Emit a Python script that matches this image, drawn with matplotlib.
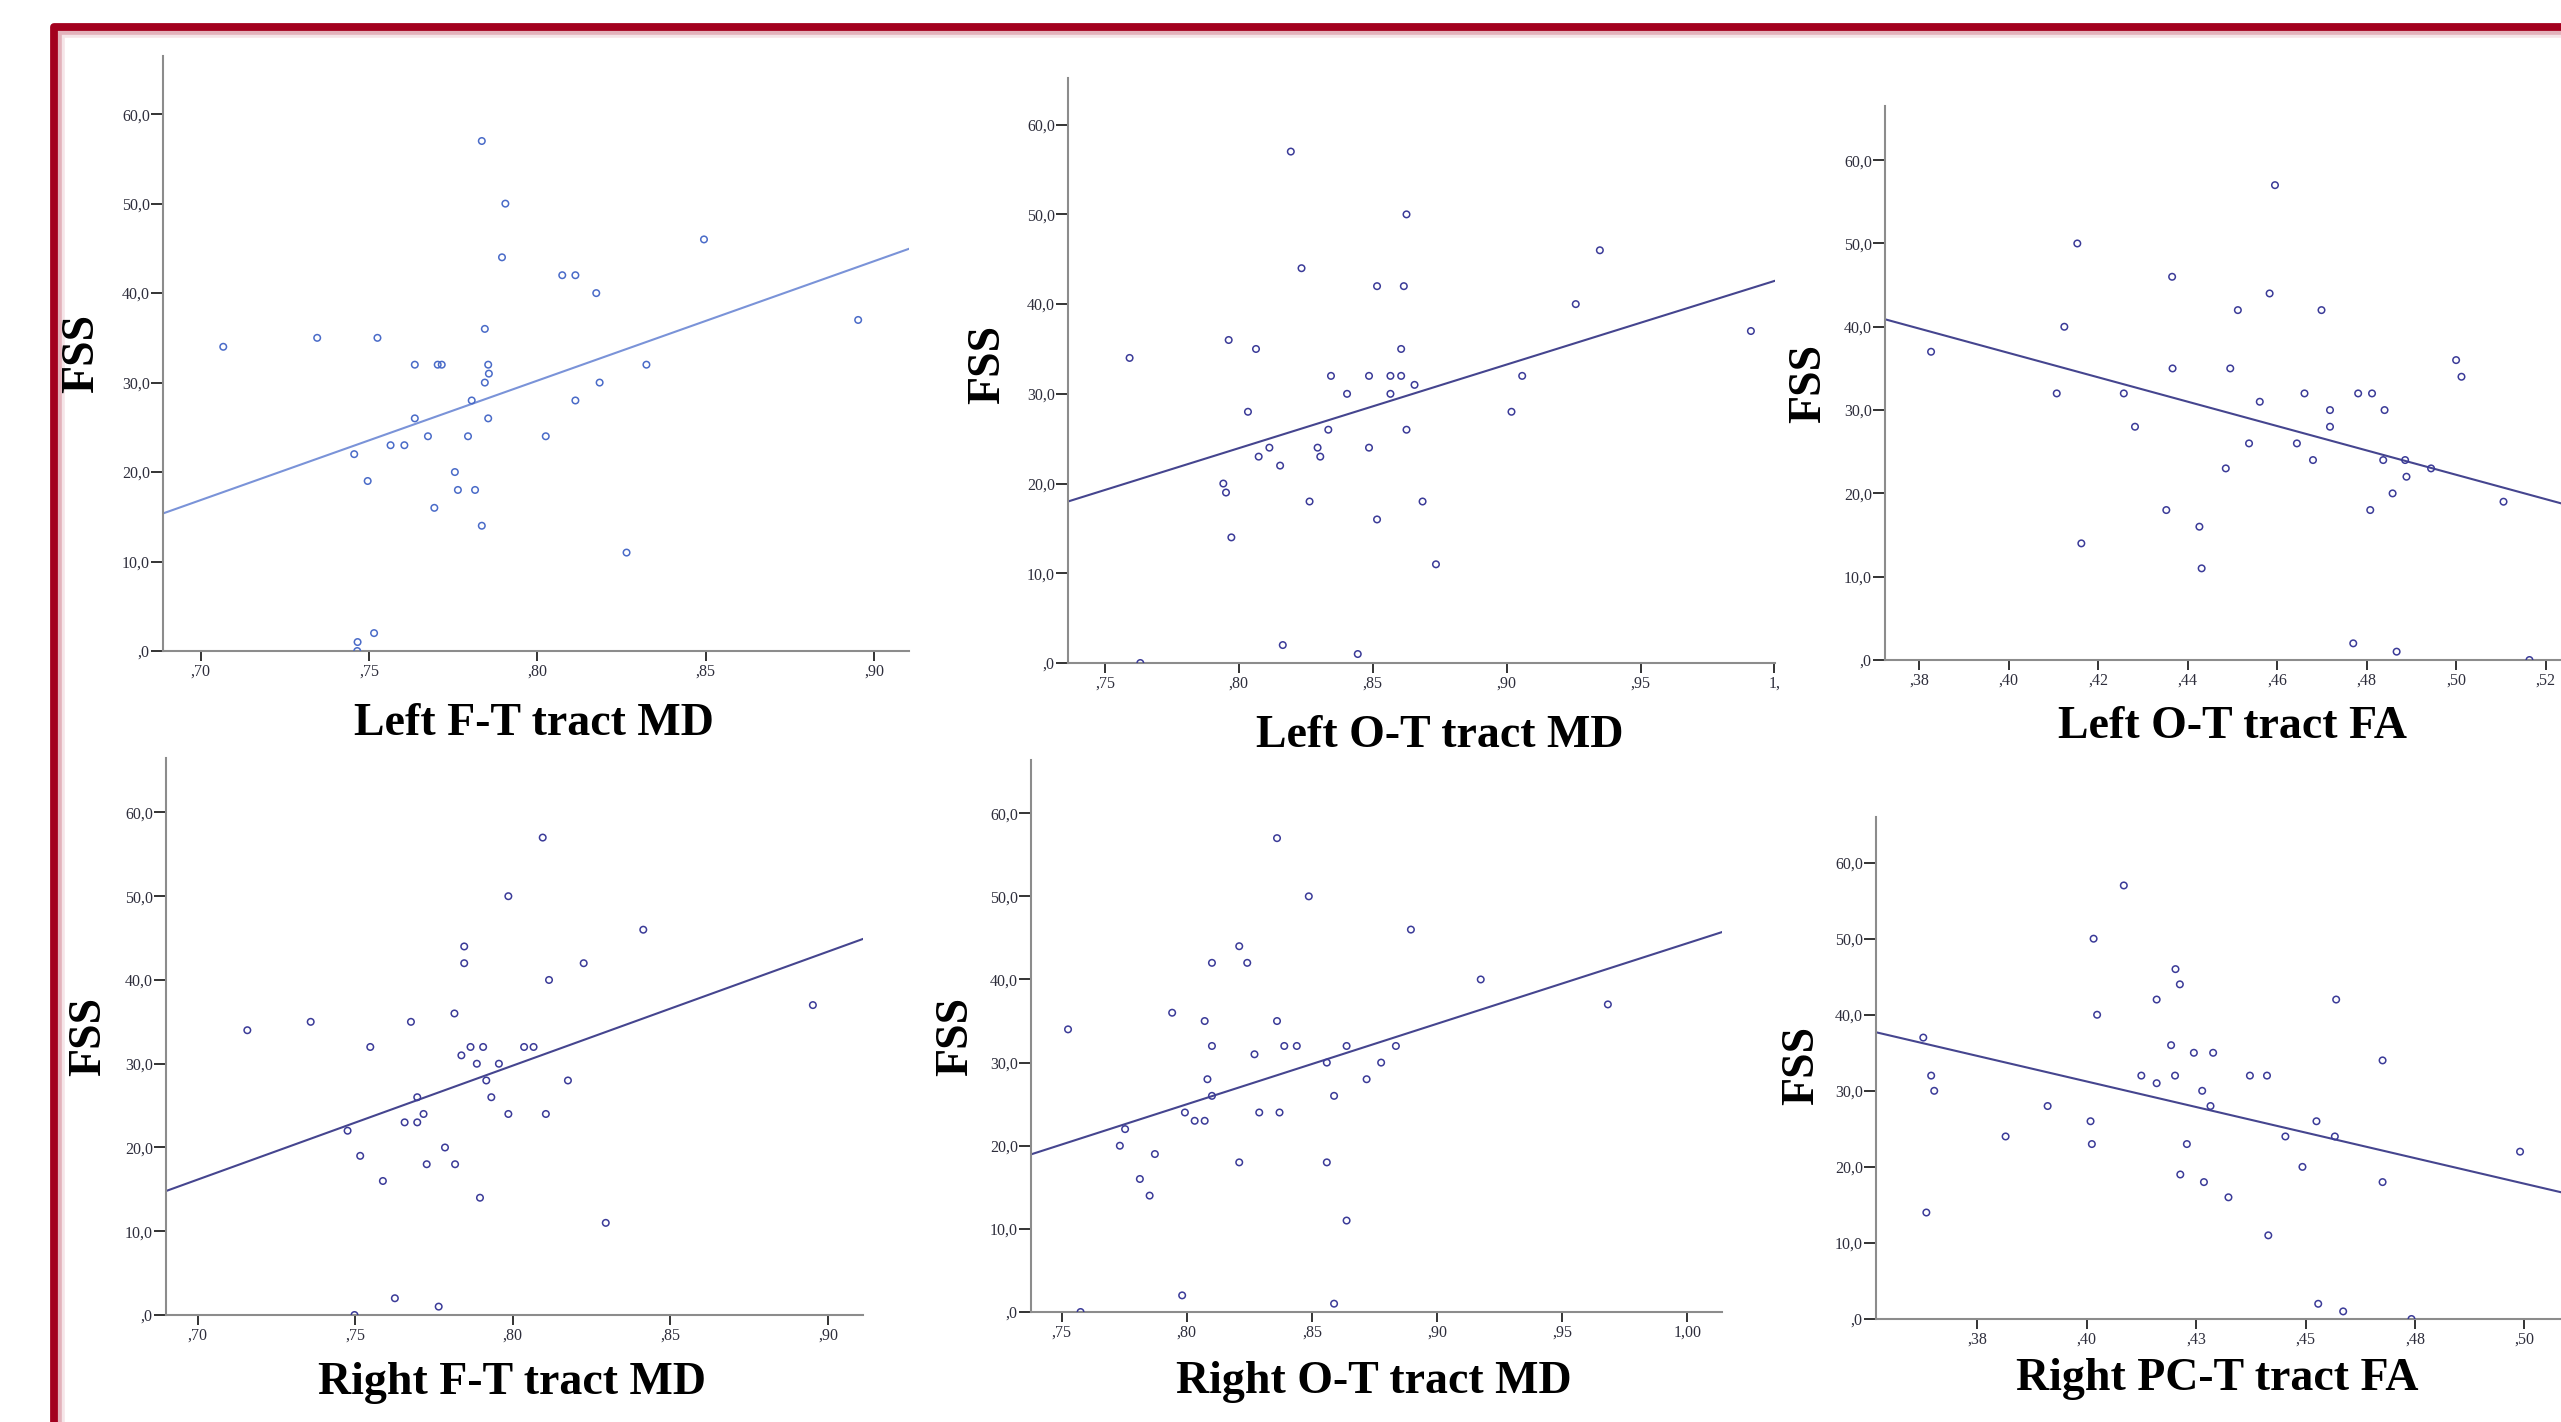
import numpy as np
import matplotlib.pyplot as plt
from matplotlib.lines import Line2D

plt.rcParams["font.family"] = ["Liberation Serif", "DejaVu Serif"]

W, H = 2561, 1422

# FSS score read for each subject, per panel (x = tract measure)
lft_md_x = [0.7067, 0.7346, 0.7525, 0.7456, 0.7496, 0.7466, 0.7465, 0.7515, 0.7564, 0.7605,
            0.7636, 0.7636, 0.7675, 0.7694, 0.7704, 0.7716, 0.7755, 0.7764, 0.7794, 0.7805,
            0.7815, 0.7835, 0.7835, 0.7844, 0.7844, 0.7854, 0.7856, 0.7854, 0.7895, 0.7905,
            0.8025, 0.8074, 0.8113, 0.8113, 0.8175, 0.8185, 0.8265, 0.8324, 0.8495, 0.8953]
lft_md_fss = [34, 35, 35, 22, 19, 1, 0, 2, 23, 23, 32, 26, 24, 16, 32, 32, 20, 18, 24, 28,
              18, 57, 14, 36, 30, 32, 31, 26, 44, 50, 24, 42, 42, 28, 40, 30, 11, 32, 46, 37]

lot_md_x = [0.7592, 0.7632, 0.7942, 0.7952, 0.7962, 0.7972, 0.8034, 0.8064, 0.8074, 0.8114,
            0.8154, 0.8164, 0.8194, 0.8234, 0.8264, 0.8294, 0.8304, 0.8334, 0.8344, 0.8404,
            0.8444, 0.8486, 0.8486, 0.8516, 0.8516, 0.8566, 0.8566, 0.8606, 0.8606, 0.8616,
            0.8626, 0.8626, 0.8656, 0.8686, 0.8736, 0.9018, 0.9058, 0.9258, 0.9348, 0.9912]
lot_md_fss = [34, 0, 20, 19, 36, 14, 28, 35, 23, 24, 22, 2, 57, 44, 18, 24, 23, 26, 32, 30,
              1, 32, 24, 42, 16, 32, 30, 35, 32, 42, 50, 26, 31, 18, 11, 28, 32, 40, 46, 37]

lot_fa_x = [0.3826, 0.4107, 0.4124, 0.4153, 0.4162, 0.4257, 0.4282, 0.4352, 0.4365, 0.4366,
            0.4426, 0.4431, 0.4485, 0.4495, 0.4512, 0.4537, 0.4561, 0.4583, 0.4595, 0.4644,
            0.4661, 0.4680, 0.4699, 0.4718, 0.4718, 0.4770, 0.4781, 0.4808, 0.4812, 0.4837,
            0.4840, 0.4858, 0.4867, 0.4886, 0.4889, 0.4944, 0.5000, 0.5012, 0.5106, 0.5164]
lot_fa_fss = [37, 32, 40, 50, 14, 32, 28, 18, 46, 35, 16, 11, 23, 35, 42, 26, 31, 44, 57, 26,
              32, 24, 42, 30, 28, 2, 32, 18, 32, 24, 30, 20, 1, 24, 22, 23, 36, 34, 19, 0]

rft_md_x = [0.7158, 0.7359, 0.7476, 0.7498, 0.7516, 0.7548, 0.7588, 0.7626, 0.7657, 0.7677,
            0.7697, 0.7697, 0.7717, 0.7727, 0.7765, 0.7785, 0.7815, 0.7817, 0.7837, 0.7846,
            0.7846, 0.7866, 0.7886, 0.7896, 0.7906, 0.7916, 0.7932, 0.7956, 0.7986, 0.7986,
            0.8036, 0.8066, 0.8095, 0.8105, 0.8115, 0.8175, 0.8225, 0.8295, 0.8414, 0.8952]
rft_md_fss = [34, 35, 22, 0, 19, 32, 16, 2, 23, 35, 26, 23, 24, 18, 1, 20, 36, 18, 31, 44,
              42, 32, 30, 14, 32, 28, 26, 30, 50, 24, 32, 32, 57, 24, 40, 28, 42, 11, 46, 37]

rot_md_x = [0.7525, 0.7575, 0.7732, 0.7753, 0.7812, 0.7851, 0.7872, 0.7941, 0.7981, 0.7992,
            0.8031, 0.8071, 0.8071, 0.8082, 0.8100, 0.8100, 0.8100, 0.8209, 0.8209, 0.8241,
            0.8270, 0.8289, 0.8360, 0.8360, 0.8370, 0.8389, 0.8439, 0.8487, 0.8559, 0.8559,
            0.8588, 0.8588, 0.8638, 0.8638, 0.8718, 0.8776, 0.8835, 0.8895, 0.9174, 0.9682]
rot_md_fss = [34, 0, 20, 22, 16, 14, 19, 36, 2, 24, 23, 35, 23, 28, 42, 32, 26, 44, 18, 42,
              31, 24, 57, 35, 24, 32, 32, 50, 30, 18, 26, 1, 32, 11, 28, 30, 32, 46, 40, 37]

rpct_fa_x = [0.3627, 0.3634, 0.3645, 0.3652, 0.3815, 0.3911, 0.4009, 0.4012, 0.4016, 0.4024,
             0.4085, 0.4125, 0.4160, 0.4160, 0.4193, 0.4202, 0.4203, 0.4213, 0.4214, 0.4229,
             0.4245, 0.4264, 0.4268, 0.4283, 0.4289, 0.4324, 0.4373, 0.4412, 0.4415, 0.4454,
             0.4493, 0.4525, 0.4529, 0.4567, 0.4570, 0.4586, 0.4676, 0.4676, 0.4742, 0.4990]
rpct_fa_fss = [37, 14, 32, 30, 24, 28, 26, 23, 50, 40, 57, 32, 42, 31, 36, 32, 46, 44, 19, 23,
               35, 30, 18, 28, 35, 16, 32, 32, 11, 24, 20, 26, 2, 24, 42, 1, 34, 18, 0, 22]

# fit lines, two points
lft_md_fit = [(0.689, 15.4), (0.910, 44.9)]
lot_md_fit = [(0.7362, 18.0), (1.0002, 42.6)]
lot_fa_fit = [(0.3723, 40.9), (0.5235, 18.8)]
rft_md_fit = [(0.690, 14.8), (0.9111, 44.9)]
rot_md_fit = [(0.7377, 18.96), (1.0138, 45.7)]
rpct_fa_fit = [(0.3519, 37.7), (0.5078, 16.74)]

md_ticks = [0.70, 0.75, 0.80, 0.85, 0.90]
md_labels = [",70", ",75", ",80", ",85", ",90"]
ot_ticks = [0.75, 0.80, 0.85, 0.90, 0.95, 1.00]
fa_ticks = [0.38, 0.40, 0.42, 0.44, 0.46, 0.48, 0.50, 0.52]
fa_labels = [",38", ",40", ",42", ",44", ",46", ",48", ",50", ",52"]
pct_ticks = [0.375, 0.400, 0.425, 0.450, 0.475, 0.500]
pct_labels = [",38", ",40", ",43", ",45", ",48", ",50"]
y_ticks = [0, 10, 20, 30, 40, 50, 60]
y_labels = [",0", "10,0", "20,0", "30,0", "40,0", "50,0", "60,0"]

light_dot, light_line = "#4a6bc8", "#7a93d8"
navy_dot, navy_line = "#3b3b98", "#45458f"

panels = [
    dict(x=lft_md_x, y=lft_md_fss, fit=lft_md_fit, title="Left F-T tract MD",
         box=(163, 56, 909, 651), xlim=(0.6888, 0.9104), ytop=66.5,
         ticks=md_ticks, labels=md_labels, tpos=(534, 735), fpos=(82, 353),
         dot=light_dot, line=light_line),
    dict(x=lot_md_x, y=lot_md_fss, fit=lot_md_fit, title="Left O-T tract MD",
         box=(1068, 78, 1775, 663), xlim=(0.7362, 1.0002), ytop=65.2,
         ticks=ot_ticks, labels=[",75", ",80", ",85", ",90", ",95", "1,"],
         tpos=(1440, 747), fpos=(988, 364), dot=navy_dot, line=navy_line),
    dict(x=lot_fa_x, y=lot_fa_fss, fit=lot_fa_fit, title="Left O-T tract FA",
         box=(1885, 106, 2635, 660), xlim=(0.3723, 0.54), ytop=66.5,
         ticks=fa_ticks, labels=fa_labels, tpos=(2232, 738), fpos=(1809, 383),
         dot=navy_dot, line=navy_line),
    dict(x=rft_md_x, y=rft_md_fss, fit=rft_md_fit, title="Right F-T tract MD",
         box=(166, 758, 863, 1315), xlim=(0.690, 0.9111), ytop=66.5,
         ticks=md_ticks, labels=md_labels, tpos=(512, 1394), fpos=(89, 1036),
         dot=navy_dot, line=navy_line),
    dict(x=rot_md_x, y=rot_md_fss, fit=rot_md_fit, title="Right O-T tract MD",
         box=(1031, 760, 1722, 1312), xlim=(0.7377, 1.0138), ytop=66.4,
         ticks=ot_ticks, labels=[",75", ",80", ",85", ",90", ",95", "1,00"],
         tpos=(1374, 1393), fpos=(956, 1036), dot=navy_dot, line=navy_line),
    dict(x=rpct_fa_x, y=rpct_fa_fss, fit=rpct_fa_fit, title="Right PC-T tract FA",
         box=(1876, 817, 2612, 1319), xlim=(0.3519, 0.52), ytop=66.0,
         ticks=pct_ticks, labels=pct_labels, tpos=(2217, 1390), fpos=(1802, 1065),
         dot=navy_dot, line=navy_line),
]

fig = plt.figure(figsize=(W / 100, H / 100), dpi=100)
fig.patch.set_facecolor("white")


def fx(px):
    return px / W


def fy(py):
    return 1 - py / H


for p in panels:
    l, t, r, b = p["box"]
    ax = fig.add_axes([fx(l), fy(b), (r - l) / W, (b - t) / H])
    ax.scatter(p["x"], p["y"], s=22, facecolors="none", edgecolors=p["dot"],
               linewidths=1.1, zorder=3)
    ax.axline(p["fit"][0], p["fit"][1], color=p["line"], lw=1.5, zorder=2)
    ax.set_xlim(*p["xlim"])
    ax.set_ylim(0, p["ytop"])
    ax.set_xticks(p["ticks"])
    ax.set_xticklabels(p["labels"])
    ax.set_yticks(y_ticks)
    ax.set_yticklabels(y_labels)
    for side in ["top", "right"]:
        ax.spines[side].set_visible(False)
    for side in ["left", "bottom"]:
        ax.spines[side].set_color("#8c8c8c")
        ax.spines[side].set_linewidth(1.5)
    ax.tick_params(axis="y", direction="out", length=8.5, width=1.4,
                   color="#333333", labelsize=11.5, labelcolor="#2e2e3c", pad=1)
    ax.tick_params(axis="x", direction="out", length=7, width=1.4,
                   color="#333333", labelsize=11.5, labelcolor="#2e2e3c", pad=2)
    ax.set_facecolor("none")

    fig.text(fx(p["tpos"][0]), fy(p["tpos"][1]), p["title"], ha="center",
             va="baseline", fontsize=33, fontweight="bold", color="black")
    fig.text(fx(p["fpos"][0]), fy(p["fpos"][1]), "FSS", ha="center", va="center",
             rotation=90, fontsize=33, fontweight="bold", color="black")

# red frame of the slide
frame_x = [fx(53.5), fx(53.5), fx(W + 20)]
frame_y = [fy(H + 20), fy(27), fy(27)]
for off, a in [(7, 0.10), (4, 0.22)]:
    fig.add_artist(Line2D([fx(53.5 + off), fx(53.5 + off), fx(W + 20)],
                          [fy(H + 20), fy(27 + off), fy(27 + off)],
                          color="#a3001e", lw=5.5, alpha=a, solid_joinstyle="round"))
fig.add_artist(Line2D(frame_x, frame_y, color="#a3001e", lw=5.6,
                      solid_joinstyle="round"))

fig.savefig("out.png", dpi=100)
